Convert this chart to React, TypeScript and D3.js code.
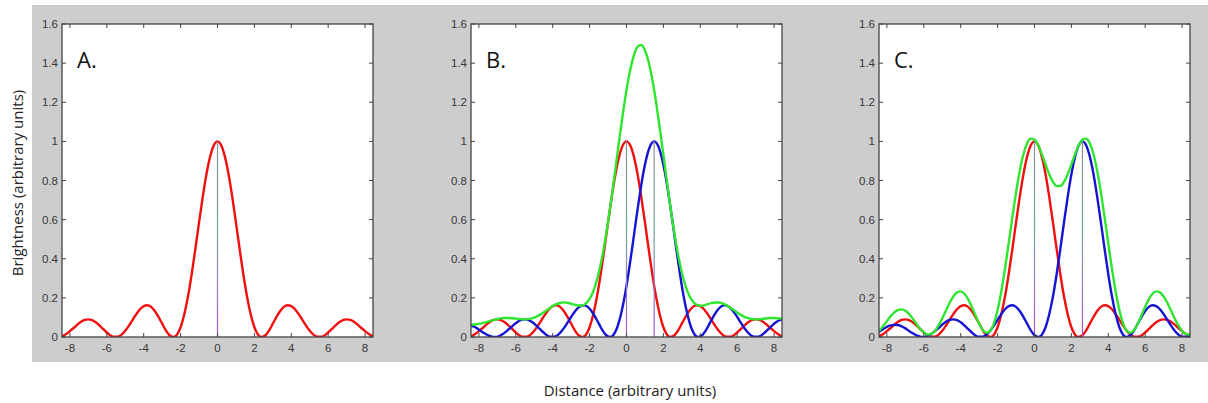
import React from "react";
import * as d3 from "d3";

// ---- data ----
const xTicks = [-8, -6, -4, -2, 0, 2, 4, 6, 8];
const yTicks = [0, 0.2, 0.4, 0.6, 0.8, 1, 1.2, 1.4, 1.6];
const yTickLabels = ["0", "0.2", "0.4", "0.6", "0.8", "1", "1.2", "1.4", "1.6"];
const panelLabels = ["A.", "B.", "C."];
const redCenters = [0, 0, 0];
const blueCenters = [null, 1.5, 2.6];

// brightness of one point source vs distance from its centre (0, 0.2, ... 11.2)
const profileStep = 0.2;
const psfProfile = [
  1.0, 0.98, 0.922, 0.832, 0.716, 0.586, 0.45, 0.321, 0.207, 0.116, 0.05, 0.012,
  0.0, 0.009, 0.034, 0.068, 0.103, 0.133, 0.154, 0.162, 0.158, 0.142, 0.117,
  0.088, 0.058, 0.032, 0.012, 0.002, 0.001, 0.008, 0.023, 0.041, 0.059, 0.075,
  0.086, 0.09, 0.087, 0.078, 0.063, 0.046, 0.03, 0.015, 0.005, 0.0, 0.002, 0.008,
  0.019, 0.031, 0.044, 0.054, 0.061, 0.062, 0.059, 0.052, 0.041, 0.029, 0.018,
];

// combined brightness (green), sampled at x = -8.4, -8.2, ... 8.4
const greenStart = -8.4;
const greenStep = 0.2;
const greenB = [
  0.063, 0.064, 0.067, 0.071, 0.076, 0.082, 0.087, 0.092, 0.095, 0.097, 0.097,
  0.096, 0.094, 0.092, 0.09, 0.091, 0.094, 0.099, 0.108, 0.119, 0.132, 0.145,
  0.158, 0.168, 0.174, 0.177, 0.175, 0.17, 0.165, 0.161, 0.161, 0.172, 0.195,
  0.234, 0.293, 0.372, 0.471, 0.588, 0.719, 0.86, 1.002, 1.139, 1.262, 1.365,
  1.44, 1.484, 1.493, 1.466, 1.406, 1.316, 1.202, 1.071, 0.931, 0.789, 0.652,
  0.527, 0.419, 0.33, 0.261, 0.212, 0.181, 0.165, 0.16, 0.162, 0.168, 0.173,
  0.176, 0.176, 0.172, 0.163, 0.152, 0.139, 0.125, 0.113, 0.103, 0.096, 0.092,
  0.09, 0.091, 0.093, 0.095, 0.097, 0.097, 0.096, 0.094,
];
const greenC = [
  0.034, 0.056, 0.081, 0.106, 0.126, 0.138, 0.141, 0.134, 0.117, 0.094, 0.067,
  0.042, 0.023, 0.013, 0.016, 0.031, 0.059, 0.095, 0.135, 0.175, 0.207, 0.228,
  0.233, 0.221, 0.194, 0.155, 0.111, 0.068, 0.036, 0.022, 0.032, 0.07, 0.138,
  0.233, 0.349, 0.479, 0.613, 0.739, 0.849, 0.934, 0.99, 1.014, 1.009, 0.98,
  0.935, 0.882, 0.832, 0.793, 0.772, 0.772, 0.793, 0.832, 0.882, 0.935, 0.98,
  1.009, 1.014, 0.99, 0.934, 0.849, 0.739, 0.613, 0.479, 0.349, 0.233, 0.138,
  0.07, 0.032, 0.022, 0.036, 0.068, 0.111, 0.155, 0.194, 0.221, 0.233, 0.228,
  0.207, 0.175, 0.135, 0.095, 0.059, 0.031, 0.016, 0.013,
];
const greenSeries = [null, greenB, greenC];

// ---- layout ----
const W = 1208;
const H = 403;
const panelLefts = [62, 471, 879];
const panelTop = 24;
const panelW = 311;
const panelH = 313;
const xDomain: [number, number] = [-8.43, 8.43];
const yDomain: [number, number] = [0, 1.6];

const RED = "#f01010";
const BLUE = "#1414d2";
const GREEN = "#2fe52f";
const AXIS = "#444444";

type Pt = [number, number];

function profilePoints(center: number): Pt[] {
  const pts: Pt[] = [];
  for (let i = psfProfile.length - 1; i >= 1; i--) pts.push([center - i * profileStep, psfProfile[i]]);
  for (let i = 0; i < psfProfile.length; i++) pts.push([center + i * profileStep, psfProfile[i]]);
  return pts;
}

function Panel({ idx }: { idx: number }) {
  const left = panelLefts[idx];
  const x = d3.scaleLinear().domain(xDomain).range([left, left + panelW]);
  const y = d3.scaleLinear().domain(yDomain).range([panelTop + panelH, panelTop]);
  const line = d3
    .line<Pt>()
    .x((d) => x(d[0]))
    .y((d) => y(d[1]))
    .curve(d3.curveMonotoneX);
  const clipId = `clip${idx}`;
  const red = profilePoints(redCenters[idx]);
  const bc = blueCenters[idx];
  const blue = bc === null ? null : profilePoints(bc);
  const g = greenSeries[idx];
  const green: Pt[] | null = g ? g.map((v, i) => [greenStart + i * greenStep, v] as Pt) : null;
  const markers = [redCenters[idx], ...(bc === null ? [] : [bc])];
  const bottom = panelTop + panelH;
  const right = left + panelW;
  return (
    <g>
      <rect x={left} y={panelTop} width={panelW} height={panelH} fill="#ffffff" />
      <clipPath id={clipId}>
        <rect x={left} y={panelTop} width={panelW} height={panelH} />
      </clipPath>
      <g clipPath={`url(#${clipId})`} fill="none" strokeLinejoin="round" strokeLinecap="round">
        <path d={line(red) || ""} stroke={RED} strokeWidth={2.4} />
        {blue && <path d={line(blue) || ""} stroke={BLUE} strokeWidth={2.4} />}
        {green && <path d={line(green) || ""} stroke={GREEN} strokeWidth={2.4} />}
        {markers.map((m, i) => (
          <line key={i} x1={x(m)} x2={x(m)} y1={y(1)} y2={y(0)} stroke="url(#vgrad)" strokeWidth={1.2} />
        ))}
      </g>
      {/* frame */}
      <rect x={left} y={panelTop} width={panelW} height={panelH} fill="none" stroke={AXIS} strokeWidth={1.3} />
      {/* ticks */}
      {xTicks.map((t) => (
        <g key={"x" + t}>
          <line x1={x(t)} x2={x(t)} y1={bottom} y2={bottom - 4} stroke={AXIS} strokeWidth={1} />
          <line x1={x(t)} x2={x(t)} y1={panelTop} y2={panelTop + 4} stroke={AXIS} strokeWidth={1} />
          <text
            x={x(t)}
            y={bottom + 15}
            textAnchor="middle"
            fontFamily="'Liberation Sans', Arial, sans-serif"
            fontSize={11.5}
            fill="#383838"
          >
            {t}
          </text>
        </g>
      ))}
      {yTicks.map((t, i) => (
        <g key={"y" + t}>
          <line x1={left} x2={left + 4} y1={y(t)} y2={y(t)} stroke={AXIS} strokeWidth={1} />
          <line x1={right} x2={right - 4} y1={y(t)} y2={y(t)} stroke={AXIS} strokeWidth={1} />
          <text
            x={left - 4}
            y={y(t) + 4}
            textAnchor="end"
            fontFamily="'Liberation Sans', Arial, sans-serif"
            fontSize={11.5}
            fill="#383838"
          >
            {yTickLabels[i]}
          </text>
        </g>
      ))}
      <text x={left + 15} y={68} fontFamily="'Open Sans', sans-serif" fontSize={22} fill="#111">
        {panelLabels[idx]}
      </text>
    </g>
  );
}

export default function App() {
  return (
    <svg
      width={W}
      height={H}
      viewBox={`0 0 ${W} ${H}`}
      style={{ position: "absolute", left: 0, top: 0, background: "#ffffff" }}
    >
      <defs>
        <linearGradient id="vgrad" gradientUnits="userSpaceOnUse" x1={0} y1={140} x2={0} y2={337}>
          <stop offset="0" stopColor="#8c8c9a" />
          <stop offset="0.45" stopColor="#6fa896" />
          <stop offset="0.75" stopColor="#9a78c8" />
          <stop offset="1" stopColor="#b050e0" />
        </linearGradient>
      </defs>
      <rect x={32} y={5} width={W - 32} height={357} fill="#cdcdcd" />
      {[0, 1, 2].map((i) => (
        <Panel key={i} idx={i} />
      ))}
      <text
        transform="translate(19,183) rotate(-90)"
        textAnchor="middle"
        dominantBaseline="middle"
        fontFamily="'Open Sans', sans-serif"
        fontSize={15}
        fill="#222"
      >
        Brightness (arbitrary units)
      </text>
      <text
        x={630}
        y={392}
        textAnchor="middle"
        dominantBaseline="middle"
        fontFamily="'Open Sans', sans-serif"
        fontSize={15}
        fill="#222"
      >
        Distance (arbitrary units)
      </text>
    </svg>
  );
}
